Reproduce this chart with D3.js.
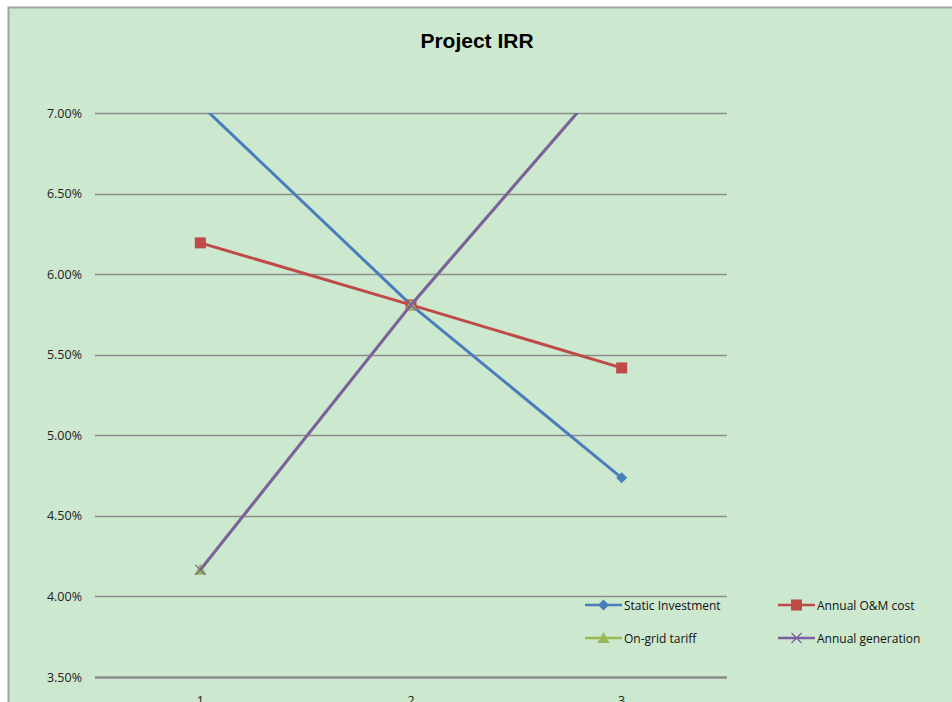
<!DOCTYPE html>
<html><head><meta charset="utf-8">
<script src="https://cdn.jsdelivr.net/npm/d3@7"></script>
<style>body{margin:0;background:#fff;}svg{display:block;}</style>
</head><body>
<script>
const categories = ["1", "2", "3"];
const staticInvestment = [0.07053, 0.05809, 0.04736];
const annualOMCost = [0.06194, 0.05809, 0.05418];
const onGridTariff = [0.04165, 0.05809, 0.07320];
const annualGeneration = [0.04165, 0.05809, 0.07320];
const yTicks = [0.035, 0.04, 0.045, 0.05, 0.055, 0.06, 0.065, 0.07];
const seriesNames = ["Static Investment", "Annual O&M cost", "On-grid tariff", "Annual generation"];

const W = 952, H = 702;
const svg = d3.select("body").append("svg").attr("width", W).attr("height", H);
svg.append("rect").attr("x", 8.5).attr("y", 7.5).attr("width", W + 10).attr("height", H + 10)
  .attr("fill", "#CCE8CF").attr("stroke", "#9DA59D").attr("stroke-width", 2);

const plot = {left: 95, right: 727, top: 113, bottom: 677};
const x = d3.scaleBand().domain(categories).range([plot.left, plot.right]);
const y = d3.scaleLinear().domain([0.035, 0.07]).range([plot.bottom, plot.top]);

svg.append("text").attr("x", 477).attr("y", 48).attr("text-anchor", "middle")
  .attr("font-family", "Liberation Sans Narrow, Liberation Sans, sans-serif").attr("font-weight", "bold")
  .attr("font-size", 21).attr("fill", "#000").text("Project IRR");

// gridlines
svg.append("g").selectAll("line").data(yTicks).join("line")
  .attr("x1", plot.left).attr("x2", plot.right)
  .attr("y1", d => Math.round(y(d)) + 0.5).attr("y2", d => Math.round(y(d)) + 0.5)
  .attr("stroke", "#8C8C8C").attr("stroke-width", d => d === 0.035 ? 2.5 : 1.3);

// y axis labels
const yAxis = d3.axisLeft(y).tickValues(yTicks).tickFormat(d3.format(".2%")).tickSize(0).tickPadding(0);
const ya = svg.append("g").attr("transform", `translate(82,0)`).call(yAxis);
ya.select(".domain").remove();
ya.selectAll("text").attr("font-family", "Open Sans, DejaVu Sans, sans-serif").attr("font-size", 12.5).attr("fill", "#222");

// x axis labels
const xAxis = d3.axisBottom(x).tickSize(0).tickPadding(0);
const xa = svg.append("g").attr("transform", `translate(0,696)`).call(xAxis);
xa.select(".domain").remove();
xa.selectAll("text").attr("font-family", "Open Sans, DejaVu Sans, sans-serif").attr("font-size", 12.5).attr("fill", "#222");

svg.append("clipPath").attr("id", "clip").append("rect")
  .attr("x", 0).attr("y", plot.top).attr("width", W).attr("height", plot.bottom - plot.top + 4);

const series = [
  {name: seriesNames[0], vals: staticInvestment, color: "#4A7EBB", marker: "diamond"},
  {name: seriesNames[1], vals: annualOMCost, color: "#BE4B48", marker: "square"},
  {name: seriesNames[2], vals: onGridTariff, color: "#98B954", marker: "triangle"},
  {name: seriesNames[3], vals: annualGeneration, color: "#7D60A0", marker: "x"}
];
const cx = c => x(c) + x.bandwidth() / 2;
const line = d3.line().x((d, i) => cx(categories[i])).y(d => y(d));

function drawMarker(g, type, color) {
  if (type === "diamond") {
    g.append("path").attr("d", "M0,-5.5L5.5,0L0,5.5L-5.5,0Z").attr("fill", color);
  } else if (type === "square") {
    g.append("rect").attr("x", -5.5).attr("y", -5.5).attr("width", 11).attr("height", 11).attr("fill", color);
  } else if (type === "triangle") {
    g.append("path").attr("d", "M0,-6L6,5L-6,5Z").attr("fill", color);
  } else {
    g.append("path").attr("d", "M-5,-5L5,5M5,-5L-5,5").attr("stroke", color).attr("stroke-width", 1.3).attr("fill", "none");
  }
}

const pg = svg.append("g").attr("clip-path", "url(#clip)");
series.forEach(s => {
  const g = pg.append("g");
  g.append("path").datum(s.vals).attr("d", line).attr("fill", "none")
    .attr("stroke", s.color).attr("stroke-width", 3).attr("stroke-linejoin", "round");
  s.vals.forEach((v, i) => {
    const m = g.append("g").attr("transform", `translate(${cx(categories[i])},${y(v)})`);
    drawMarker(m, s.marker, s.color);
  });
});

// legend
const legPos = [[585, 605], [778, 605], [585, 638], [778, 638]];
series.forEach((s, i) => {
  const [lx, ly] = legPos[i];
  const g = svg.append("g").attr("transform", `translate(${lx},${ly})`);
  g.append("line").attr("x1", 0).attr("x2", 37).attr("y1", 0).attr("y2", 0).attr("stroke", s.color).attr("stroke-width", 2.5);
  const m = g.append("g").attr("transform", "translate(18.5,0)");
  drawMarker(m, s.marker, s.color);
  g.append("text").attr("x", 39).attr("y", 4.5).attr("font-family", "Open Sans, DejaVu Sans, sans-serif")
    .attr("font-size", 12).attr("fill", "#111").text(s.name);
});
</script>
</body></html>
